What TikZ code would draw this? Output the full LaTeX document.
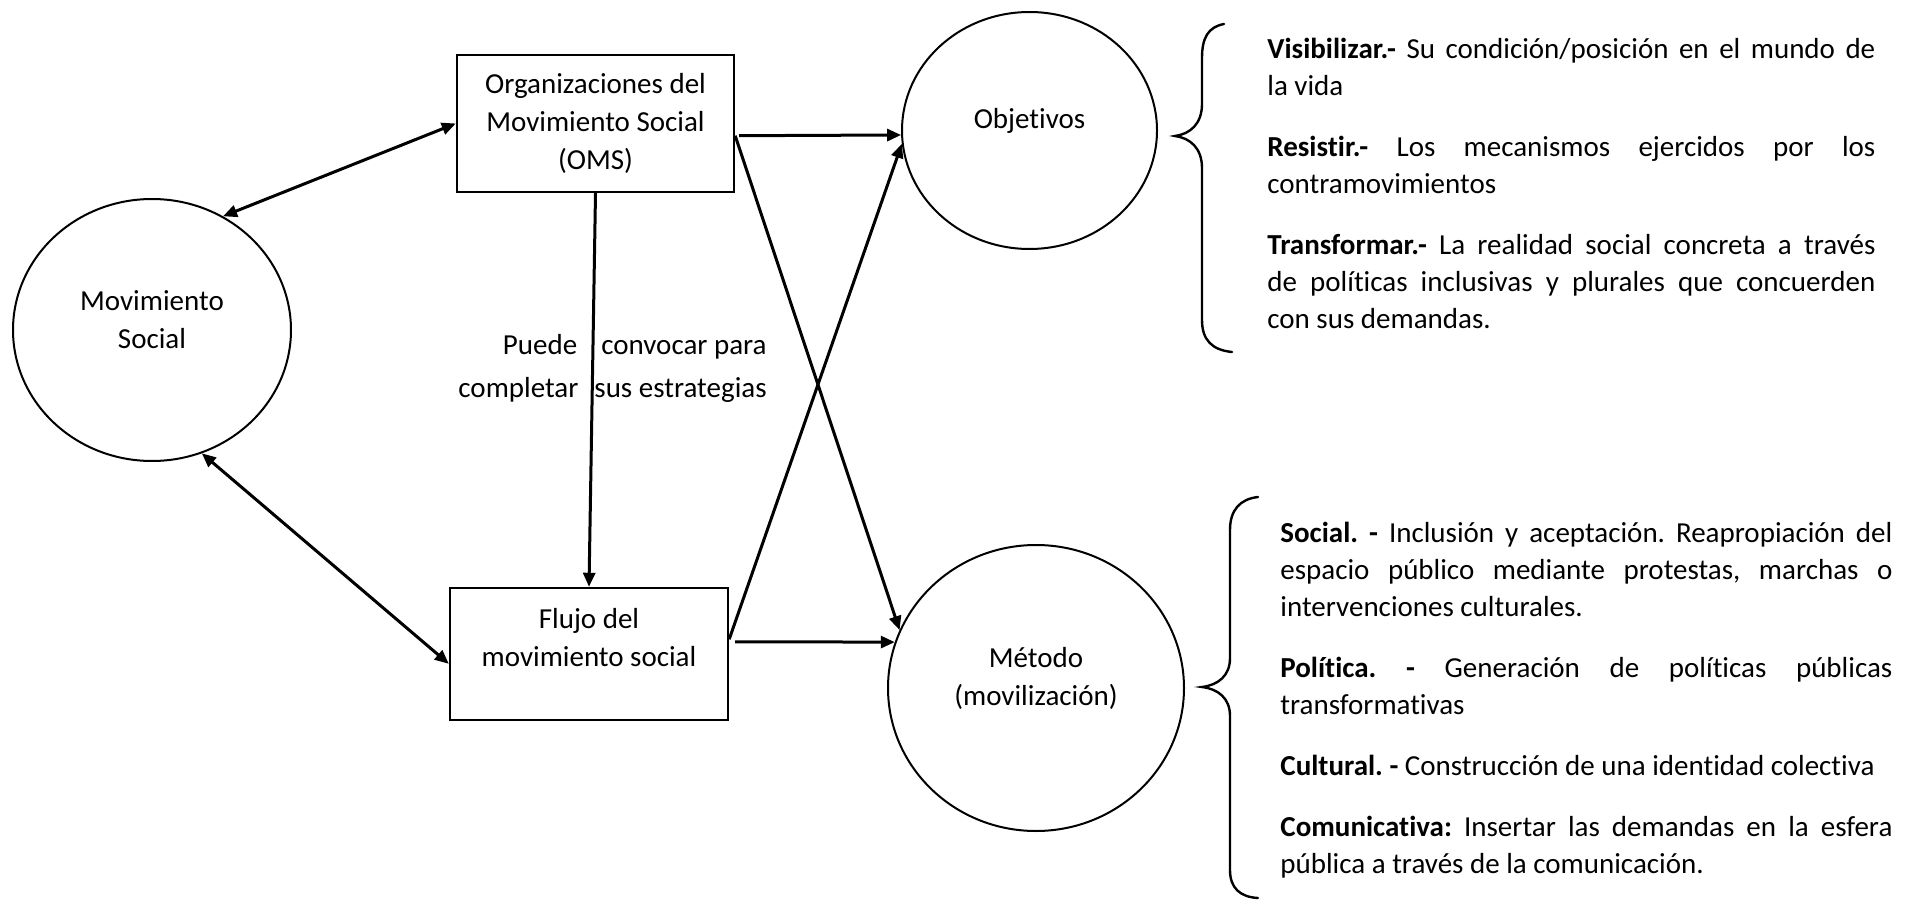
\documentclass[tikz,border=0pt]{standalone}
\usepackage{fontspec}
\setmainfont{Carlito}[Ligatures=NoCommon]
\usetikzlibrary{shapes.geometric, arrows.meta}

\newcommand{\blockfont}{\fontsize{14.5pt}{18.5pt}\selectfont\frenchspacing\parindent=0pt\parskip=12pt\tolerance=10000\hyphenpenalty=10000}
\newcommand{\cuefont}{\fontsize{14.5pt}{21.5pt}\selectfont}

\begin{document}
\begin{tikzpicture}[
    x=0.5pt, y=-0.5pt,
    font=\fontsize{14.5pt}{19pt}\selectfont,
    bubble/.style={ellipse, draw, line width=1pt, inner sep=0pt},
    bubble_text/.style={align=center, yshift=5pt},
    org_box/.style={rectangle, draw, line width=1.2pt, inner sep=0pt, align=center},
    flow_arrow/.style={line width=1.5pt, -{Triangle[length=7pt, width=6pt]}},
    both_arrow/.style={line width=1.5pt, {Triangle[length=7pt, width=6pt]}-{Triangle[length=7pt, width=6pt]}},
    brace_line/.style={line width=1.2pt, line cap=round},
    block_text/.style={text width=#1, align=justify, inner sep=0pt, anchor=north west, font=\blockfont}
]
\useasboundingbox (0,0) rectangle (1913,904);

% Movimiento social
\node (ms) at (152,330) [bubble, minimum width=139pt, minimum height=131pt, label={[bubble_text]center:Movimiento\\Social}] {};

% Organizaciones y flujo
\node (oms) at (595.5,123.5) [org_box, minimum width=138.5pt, minimum height=68.5pt] {Organizaciones del\\Movimiento Social\\(OMS)};
\node (flujo) at (589,654) [org_box, minimum width=139pt, minimum height=66pt, label={[align=center, yshift=8pt]center:Flujo del\\movimiento social}] {};

% Objetivos y metodo
\node (obj) at (1029.5,130.5) [bubble, minimum width=127.5pt, minimum height=118.5pt, label={[bubble_text]center:Objetivos}] {};
\node (met) at (1036,688) [bubble, minimum width=148pt, minimum height=143pt, label={[bubble_text]center:Método\\(movilización)}] {};

% Texto sobre la flecha vertical
\node (cue) at (767,368.5) [anchor=east, align=right, inner sep=0pt, font=\cuefont] {Puede\hspace{12pt}convocar para\\completar\hspace{8pt}sus estrategias};

% Llaves
\draw [brace_line] (1224,24) .. controls (1208,27) and (1202,38) .. (1202,58) -- (1202,104) .. controls (1202,124) and (1190,134) .. (1175,136) .. controls (1190,138) and (1202,148) .. (1202,168) -- (1202,320) .. controls (1202,340) and (1212,350) .. (1232,352);
\draw [brace_line] (1258,497) .. controls (1240,499) and (1230,510) .. (1230,530) -- (1230,658) .. controls (1230,676) and (1218,685) .. (1202,687) .. controls (1218,689) and (1230,698) .. (1230,716) -- (1230,870) .. controls (1230,888) and (1240,897) .. (1258,898);

% Descripciones
\node (goals) at (1267,38) [block_text=304pt] {\textbf{Visibilizar.-} Su condición/posición en el mundo de\linebreak la vida\par
\textbf{Resistir.-} Los mecanismos ejercidos por los\linebreak contramovimientos\par
\textbf{Transformar.-} La realidad social concreta a través\linebreak de políticas inclusivas y plurales que concuerden\linebreak con sus demandas.};
\node (modes) at (1280,522) [block_text=306pt] {\textbf{Social. -} Inclusión y aceptación. Reapropiación del\linebreak espacio público mediante protestas, marchas o\linebreak intervenciones culturales.\par
\textbf{Política. -} Generación de políticas públicas\linebreak transformativas\par
\textbf{Cultural. -} Construcción de una identidad colectiva\par
\textbf{Comunicativa:} Insertar las demandas en la esfera\linebreak pública a través de la comunicación.};

% Conexiones
\draw [both_arrow] (oms.west) -- (ms.58);
\draw [both_arrow] (flujo.184) -- (ms.-68);
\draw [flow_arrow] (oms.south) -- (flujo.north);
\draw [flow_arrow, shorten <=2pt] (oms.-5) -- (obj.182);
\draw [flow_arrow] (oms.-5) -- (met.157);
\draw [flow_arrow, shorten <=3pt] (flujo.5) -- (met.162);
\draw [flow_arrow] (flujo.6) -- (obj.186);

\end{tikzpicture}
\end{document}
